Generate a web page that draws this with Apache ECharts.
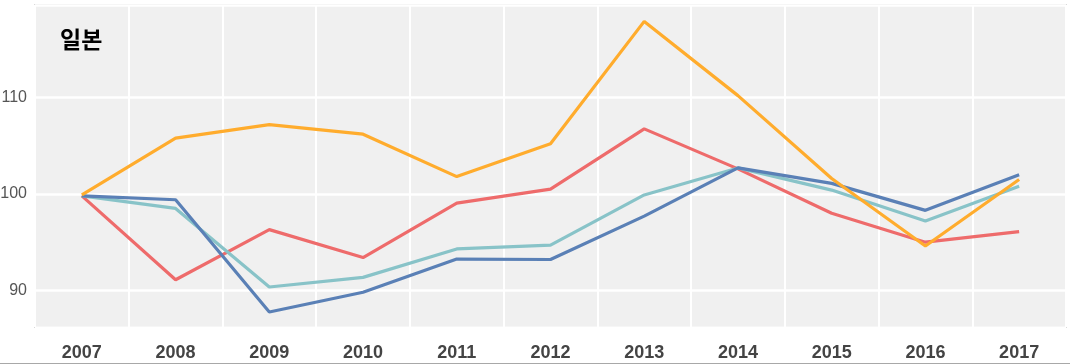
<!DOCTYPE html>
<html>
<head>
<meta charset="utf-8">
<script src="https://cdn.jsdelivr.net/npm/echarts@6/dist/echarts.min.js"></script>
<style>
html,body{margin:0;padding:0;background:#fff;}
#c{width:1070px;height:363px;border-bottom:1px solid #a8a8a8;}
</style>
</head>
<body>
<div id="c"></div>
<script>
const years = ['2007','2008','2009','2010','2011','2012','2013','2014','2015','2016','2017'];
const orangeVals = [99.9, 105.8, 107.2, 106.2, 101.8, 105.2, 117.9, 110.2, 101.6, 94.6, 101.5];
const redVals    = [99.8, 91.1, 96.3, 93.4, 99.05, 100.5, 106.75, 102.6, 98.0, 95.0, 96.1];
const tealVals   = [99.8, 98.5, 90.35, 91.35, 94.3, 94.7, 99.9, 102.7, 100.4, 97.2, 100.8];
const blueVals   = [99.8, 99.4, 87.75, 89.8, 93.25, 93.2, 97.7, 102.7, 101.1, 98.3, 102.0];
const titleText = '일본';

const labelFont = "'Liberation Sans', Arial, sans-serif";
function line(data, color) {
  return {
    type: 'line', data: data, symbol: 'none', smooth: false,
    lineStyle: {color: color, width: 3.2},
    itemStyle: {color: color}
  };
}
const chart = echarts.init(document.getElementById('c'), null, {renderer: 'canvas'});
chart.setOption({
  animation: false,
  title: {
    text: titleText, left: 55, top: 23,
    textStyle: {fontSize: 23, fontWeight: 'bold', color: '#000', fontFamily: "'Noto Sans CJK KR', sans-serif"}
  },
  grid: {
    left: 35, right: 4, top: 5, bottom: 36,
    containLabel: false, outerBoundsMode: 'none',
    show: true, backgroundColor: '#f0f0f0', borderColor: '#d9d9d9', borderWidth: 2
  },
  xAxis: {
    type: 'category', data: years, boundaryGap: true,
    axisLine: {show: false}, axisTick: {show: false},
    splitLine: {show: true, lineStyle: {color: '#ffffff', width: 2}},
    axisLabel: {color: '#444', fontSize: 18, fontWeight: 'bold', fontFamily: labelFont, margin: 17}
  },
  yAxis: {
    type: 'value', min: 86.2, max: 119.6, splitNumber: 3,
    axisLine: {show: false}, axisTick: {show: false},
    splitLine: {show: true, lineStyle: {color: '#ffffff', width: 2.5}},
    axisLabel: {color: '#555', fontSize: 16, fontFamily: labelFont, margin: 8, showMinLabel: false, showMaxLabel: false}
  },
  series: [
    line(redVals, '#ee6b6b'),
    line(tealVals, '#88c3c8'),
    line(blueVals, '#5a80b6'),
    line(orangeVals, '#ffac2d')
  ]
});
</script>
</body>
</html>
